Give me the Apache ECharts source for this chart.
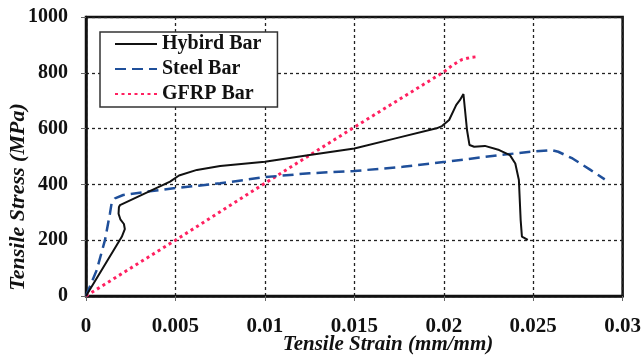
<!DOCTYPE html>
<html>
<head>
<meta charset="utf-8">
<script src="https://cdn.jsdelivr.net/npm/echarts@6/dist/echarts.min.js"></script>
<style>
  html, body { margin: 0; padding: 0; background: #ffffff; }
  #chart { width: 644px; height: 355px; }
</style>
</head>
<body>
<div id="chart"></div>
<script>
// Tensile stress-strain curves of the three bar types
const seriesNames = ['Hybird Bar', 'Steel Bar', 'GFRP Bar'];

const hybridStrain = [0, 0.0020, 0.00217, 0.00212, 0.00192, 0.00182, 0.00184, 0.0019, 0.0047, 0.0052, 0.0062, 0.0075, 0.0100, 0.0125, 0.0150, 0.0173, 0.0196, 0.0199, 0.0203, 0.0207, 0.0209, 0.0211, 0.0213, 0.02144, 0.0217, 0.0223, 0.0231, 0.0237, 0.0240, 0.0242, 0.0243, 0.02437, 0.0247];
const hybridStress = [0, 212, 240, 258, 275, 295, 318, 326, 410, 432, 452, 466, 481, 505, 529, 565, 601, 609, 631, 685, 702, 724, 595, 541, 535, 538, 523, 505, 475, 416, 272, 213, 201];

const steelStrain = [0, 0.0006, 0.00106, 0.00134, 0.00143, 0.00162, 0.00208, 0.0034, 0.0049, 0.0075, 0.0100, 0.0125, 0.0150, 0.0177, 0.0201, 0.0231, 0.0249, 0.0260, 0.0264, 0.0272, 0.0282, 0.0290];
const steelStress = [0, 93, 200, 296, 332, 350, 362, 374, 386, 404, 426, 440, 448, 463, 481, 505, 517, 523, 517, 493, 452, 418];

const gfrpStrain = [0, 0.005, 0.010, 0.015, 0.020, 0.0205, 0.0210, 0.0215, 0.0219];
const gfrpStress = [0, 200, 404, 605, 803, 828, 847, 855, 858];

const xTickLabels = ['0', '0.005', '0.01', '0.015', '0.02', '0.025', '0.03'];
const yTickLabels = ['0', '200', '400', '600', '800', '1000'];

const xTitle = 'Tensile Strain (mm/mm)';
const yTitle = 'Tensile Stress (MPa)';

const zip = (xs, ys) => xs.map((x, i) => [x, ys[i]]);

const serifFont = '"Liberation Serif", "Times New Roman", serif';

const chart = echarts.init(document.getElementById('chart'), null, { renderer: 'canvas' });

chart.setOption({
  backgroundColor: '#ffffff',
  animation: false,
  grid: {
    left: 86, right: 20, top: 17, bottom: 59,
    show: true, borderColor: '#111', borderWidth: 2.5, backgroundColor: 'transparent'
  },
  legend: {
    data: seriesNames,
    orient: 'vertical',
    left: 100, top: 32,
    itemWidth: 42, itemHeight: 14, itemGap: 5,
    padding: [2, 16, 3, 14],
    borderColor: '#333', borderWidth: 1.5,
    backgroundColor: '#ffffff',
    itemStyle: { opacity: 0 },
    textStyle: { fontFamily: serifFont, fontWeight: 'bold', fontSize: 20, color: '#111', lineHeight: 20 }
  },
  xAxis: {
    type: 'value', min: 0, max: 0.03, interval: 0.005,
    axisLine: { show: true, lineStyle: { color: '#111', width: 2.5 } },
    axisTick: { show: true, length: 5, lineStyle: { color: '#666', width: 1 } },
    axisLabel: {
      margin: 20, fontFamily: serifFont, fontWeight: 'bold', fontSize: 21, color: '#111',
      formatter: v => xTickLabels[Math.round(v / 0.005)]
    },
    splitLine: { show: true, lineStyle: { color: '#222', width: 1.3, type: [3, 3] } }
  },
  yAxis: {
    type: 'value', min: 0, max: 1000, interval: 200,
    axisLine: { show: true, lineStyle: { color: '#111', width: 2.5 } },
    axisTick: { show: true, length: 5, lineStyle: { color: '#666', width: 1 } },
    axisLabel: {
      margin: 18, fontFamily: serifFont, fontWeight: 'bold', fontSize: 20, color: '#111',
      formatter: v => yTickLabels[Math.round(v / 200)]
    },
    splitLine: { show: true, lineStyle: { color: '#222', width: 1.3, type: [3, 3] } }
  },
  graphic: [
    {
      type: 'text', x: 388, y: 345, z: 10,
      style: { text: xTitle, align: 'center', verticalAlign: 'middle',
        font: 'italic bold 21px ' + serifFont, fill: '#111' }
    },
    {
      type: 'text', x: 18, y: 197, rotation: Math.PI / 2, z: 10,
      style: { text: yTitle, align: 'center', verticalAlign: 'middle',
        font: 'italic bold 22px ' + serifFont, fill: '#111' }
    }
  ],
  series: [
    {
      name: seriesNames[0], type: 'line', data: zip(hybridStrain, hybridStress),
      symbol: 'none', z: 4,
      lineStyle: { color: '#111', width: 2, type: 'solid' },
      itemStyle: { color: '#111' }
    },
    {
      name: seriesNames[1], type: 'line', data: zip(steelStrain, steelStress),
      symbol: 'none', z: 3,
      lineStyle: { color: '#1f4f9a', width: 2.5, type: [11, 6] },
      itemStyle: { color: '#1f4f9a' }
    },
    {
      name: seriesNames[2], type: 'line', data: zip(gfrpStrain, gfrpStress),
      symbol: 'none', z: 2,
      lineStyle: { color: '#ff2060', width: 3, type: [3, 3.5] },
      itemStyle: { color: '#ff2060' }
    }
  ]
});
</script>
</body>
</html>
